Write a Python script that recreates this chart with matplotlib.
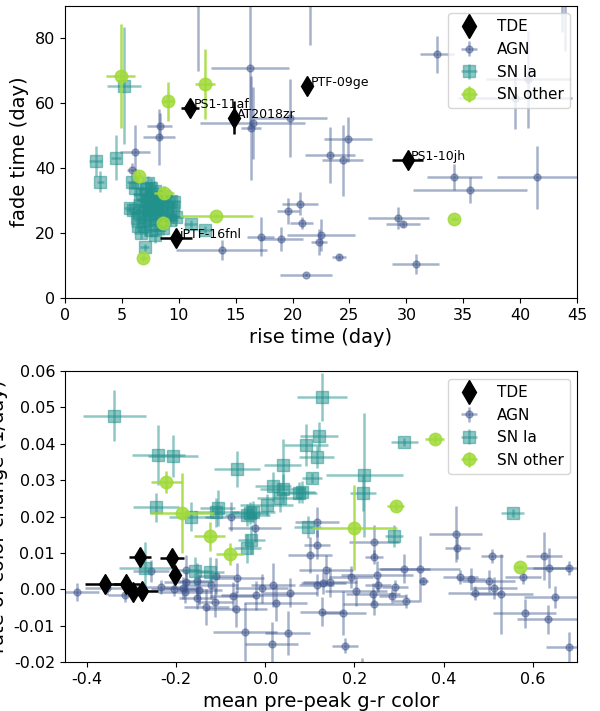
import matplotlib
matplotlib.use("Agg")
import matplotlib.pyplot as plt
import numpy as np

# ---------------- top panel: rise vs fade ----------------
tde_names = ['PS1-11af', 'AT2018zr', 'PTF-09ge', 'PS1-10jh', 'iPTF-16fnl']
tde_rise = [11.0, 14.85, 21.3, 30.1, 9.8]
tde_fade = [58.6, 55.5, 65.4, 42.6, 18.5]
tde_rise_err = [0.8, 0.3, 0.3, 1.4, 1.4]
tde_fade_err = [1.5, 5.0, 1.0, 1.0, 1.0]

agn_rise = [16.26, 16.5, 16.35, 19.8, 11.7, 21.5, 24.9, 23.3, 24.4, 32.7, 40.7, 39.5,
            43.7, 43.9, 34.2, 35.6, 41.5, 29.3, 29.7, 22.5, 22.3, 24.1, 30.8, 21.2,
            20.65, 19.6, 20.8, 17.2, 19.0, 13.8, 8.35, 8.25, 6.15, 5.9, 9.5]
agn_fade = [70.9, 53.9, 52.4, 55.4, 100, 100, 48.8, 44.1, 42.4, 75.0, 67.3, 61.7,
            97, 100, 37.1, 33.3, 37.1, 24.6, 22.8, 19.4, 17.3, 12.6, 10.4, 7.2,
            29.0, 26.8, 23.1, 18.8, 18.2, 14.8, 52.9, 49.6, 44.9, 39.5, 25.0]
agn_rise_err = [3.4, 4.6, 0.9, 3.2, 0.3, 0.3, 2.1, 2.2, 1.8, 1.5, 3.7, 5.0,
                0.3, 0.3, 2.4, 5.0, 3.5, 2.7, 1.5, 3.0, 0.7, 0.6, 2.1, 2.3,
                1.6, 1.0, 1.0, 1.2, 1.9, 4.0, 1.1, 1.4, 1.3, 0.4, 0.8]
agn_fade_err = [19, 11, 16, 12, 30, 22, 7, 8.6, 11, 5.6, 15, 9.6,
                15, 24, 4, 4, 9.6, 3.4, 1.0, 5, 4, 0.8, 3, 0.5,
                3.6, 4, 1.8, 6, 3.6, 3, 4, 8.7, 8.5, 2, 2]

snia_rise = [2.7, 4.5, 3.1, 5.2, 5.9, 5.7, 7.0, 11.05, 12.3,
             6.0, 6.3, 6.5, 6.6, 6.8, 6.9, 7.0, 7.0, 7.1, 7.2, 7.3, 7.4, 7.5, 7.5,
             7.6, 7.7, 7.8, 7.9, 8.0, 8.1, 8.2, 8.3, 8.4, 8.5, 8.7, 8.8, 9.0, 9.2,
             9.3, 9.5, 9.6, 9.8, 6.2, 7.3, 6.7, 7.9, 6.4, 7.6, 8.6]
snia_fade = [42.3, 43.2, 35.8, 65.4, 35.8, 27.7, 15.6, 22.8, 21.0,
             27.0, 24.5, 26.0, 30.2, 32.0, 28.5, 25.0, 22.0, 33.5, 30.0, 27.2, 24.0, 31.0, 28.0,
             20.8, 26.0, 29.5, 33.0, 24.5, 27.5, 30.5, 22.5, 26.5, 29.0, 31.5, 25.5, 28.0, 24.0,
             30.0, 27.0, 29.5, 25.0, 33.8, 35.5, 20.0, 19.5, 22.2, 34.0, 21.5]
snia_rise_err = [0.6, 0.45, 0.3, 1.5, 0.4, 0.5, 0.4, 0.6, 0.6,
                 0.6, 0.5, 0.7, 0.6, 0.8, 0.5, 0.6, 0.5, 0.7, 0.6, 0.8, 0.5, 0.6, 0.9,
                 0.5, 0.7, 0.6, 0.8, 0.5, 0.6, 0.7, 0.5, 0.8, 0.6, 0.7, 0.5, 0.6, 0.7,
                 0.8, 0.6, 0.5, 0.7, 0.6, 0.5, 0.6, 0.5, 0.6, 0.7, 0.5]
snia_fade_err = [4.6, 7, 3.3, 18, 2, 1.5, 1.0, 1.2, 1.0,
                 2.5, 3, 2, 3.5, 2.5, 3, 2, 3, 2.5, 3.5, 2, 3, 2.5, 4,
                 2, 3, 2.5, 3, 2, 3.5, 2.5, 2, 3, 2.5, 3, 2, 3.5, 2,
                 3, 2.5, 2, 3, 2.5, 2, 2, 2.5, 2, 3, 2]

sno_rise = [4.9, 9.1, 12.3, 6.5, 8.7, 8.6, 13.3, 6.9, 34.2]
sno_fade = [68.3, 60.6, 66.0, 37.7, 32.4, 23.2, 25.2, 12.3, 24.4]
sno_rise_err = [1.3, 0.5, 0.9, 0.3, 0.9, 0.3, 3.2, 0.3, 0.3]
sno_fade_err = [16, 6, 10.8, 1, 2, 1, 0.5, 0.8, 0.5]

# ---------------- bottom panel: color vs color change ----------------
tde_col = [-0.359, -0.312, -0.296, -0.276, -0.281, -0.21, -0.202]
tde_rate = [0.0015, 0.0015, -0.0008, -0.0005, 0.0089, 0.0086, 0.0039]
tde_col_err = [0.046, 0.03, 0.02, 0.035, 0.025, 0.027, 0.005]
tde_rate_err = [0.0008, 0.0008, 0.0005, 0.0005, 0.0008, 0.0008, 0.0008]

agn_col = [-0.422, -0.355, -0.314, -0.256, -0.234, -0.206, -0.184, -0.18, -0.177, -0.177,
           -0.154, -0.148, -0.154, -0.132, -0.121, -0.112, -0.11, -0.073, -0.066, -0.064,
           -0.046, -0.02, -0.024, -0.008, 0.014, 0.017, 0.023, 0.05, 0.055, -0.076,
           0.116, 0.116, 0.1, 0.136, 0.127, 0.115, 0.13, 0.145, 0.175, 0.179,
           0.244, 0.244, 0.192, 0.251, 0.253, 0.204, 0.242, 0.244, 0.291, 0.285,
           0.316, 0.312, 0.348, 0.355, 0.427, 0.431, 0.508, 0.438, 0.462, 0.501,
           0.514, 0.471, 0.53, 0.579, 0.625, 0.636, 0.681, 0.582, 0.65, 0.634,
           0.681, 0.218]
agn_rate = [-0.0008, 0.0003, -0.0016, 0.005, 0.0006, 0.0001, 0.0003, -0.0008, 0.0053, 0.002,
            0.0023, -0.0002, -0.0024, -0.0049, 0.0012, -0.0035, 0.0037, -0.0019, -0.0054, 0.0031,
            -0.0118, -0.0016, 0.0169, 0.0003, -0.015, 0.0012, -0.0038, -0.012, -0.001, 0.0199,
            0.0185, 0.0122, 0.0094, 0.0053, -0.0062, 0.0012, 0.0017, 0.002, -0.0066, -0.0155,
            0.013, 0.0089, 0.0034, 0.0039, 0.0012, -0.0005, -0.0013, -0.004, 0.0006, -0.0018,
            -0.0032, 0.0056, 0.0056, 0.0023, 0.0152, 0.0114, 0.0092, 0.0034, 0.0028, 0.0023,
            0.0003, -0.001, -0.0013, 0.0034, 0.0092, 0.0059, 0.0059, -0.0066, -0.0021, -0.0082,
            -0.0159, -0.025]
agn_col_err = [0.049, 0.05, 0.04, 0.04, 0.06, 0.05, 0.04, 0.06, 0.03, 0.05,
               0.04, 0.05, 0.04, 0.05, 0.06, 0.04, 0.04, 0.05, 0.07, 0.06,
               0.072, 0.08, 0.06, 0.06, 0.06, 0.05, 0.07, 0.05, 0.06, 0.06,
               0.05, 0.03, 0.05, 0.06, 0.05, 0.04, 0.05, 0.06, 0.05, 0.03,
               0.056, 0.02, 0.05, 0.08, 0.03, 0.07, 0.06, 0.07, 0.03, 0.03,
               0.03, 0.058, 0.09, 0.01, 0.06, 0.028, 0.025, 0.04, 0.03, 0.06,
               0.05, 0.06, 0.07, 0.04, 0.04, 0.05, 0.08, 0.07, 0.07, 0.07,
               0.05, 0.003]
agn_rate_err = [0.0025, 0.002, 0.002, 0.003, 0.002, 0.002, 0.003, 0.003, 0.004, 0.003,
                0.005, 0.004, 0.003, 0.005, 0.004, 0.004, 0.005, 0.004, 0.005, 0.004,
                0.008, 0.004, 0.004, 0.004, 0.006, 0.006, 0.005, 0.006, 0.004, 0.004,
                0.004, 0.004, 0.005, 0.004, 0.004, 0.003, 0.003, 0.004, 0.006, 0.002,
                0.0048, 0.002, 0.003, 0.004, 0.002, 0.004, 0.003, 0.003, 0.002, 0.002,
                0.002, 0.004, 0.009, 0.001, 0.0076, 0.003, 0.002, 0.002, 0.003, 0.003,
                0.003, 0.002, 0.011, 0.002, 0.0066, 0.0055, 0.002, 0.004, 0.003, 0.004,
                0.004, 0.006]

snia_col = [-0.339, -0.24, -0.208, -0.064, 0.039, 0.127, 0.12, 0.091, 0.115, 0.105,
            0.017, 0.039, 0.075, 0.032, 0.003, -0.107, -0.11, -0.245, -0.166, -0.04,
            -0.028, -0.035, -0.031, -0.04, -0.269, -0.157, -0.123, 0.222, 0.219, 0.312,
            0.555, 0.288, 0.095, 0.082]
snia_rate = [0.0477, 0.0369, 0.0367, 0.0331, 0.0342, 0.0528, 0.0421, 0.0397, 0.0364, 0.0306,
             0.0283, 0.0276, 0.0266, 0.0252, 0.0232, 0.0224, 0.0212, 0.0226, 0.0199, 0.0204,
             0.0212, 0.021, 0.0136, 0.0113, 0.0059, 0.005, 0.0048, 0.0314, 0.0265, 0.0405,
             0.021, 0.0147, 0.0171, 0.0268]
snia_col_err = [0.071, 0.06, 0.056, 0.052, 0.041, 0.056, 0.043, 0.05, 0.039, 0.023,
                0.04, 0.05, 0.04, 0.05, 0.06, 0.04, 0.05, 0.052, 0.05, 0.05,
                0.05, 0.04, 0.03, 0.03, 0.06, 0.03, 0.03, 0.086, 0.03, 0.031,
                0.025, 0.02, 0.03, 0.03]
snia_rate_err = [0.007, 0.0083, 0.0057, 0.005, 0.007, 0.0066, 0.004, 0.0057, 0.003, 0.0015,
                 0.004, 0.004, 0.003, 0.004, 0.003, 0.005, 0.004, 0.004, 0.004, 0.003,
                 0.003, 0.003, 0.004, 0.004, 0.007, 0.004, 0.004, 0.017, 0.005, 0.001,
                 0.001, 0.003, 0.003, 0.003]

sno_col = [-0.222, -0.187, -0.125, -0.08, 0.38, 0.293, 0.2, 0.571]
sno_rate = [0.0295, 0.021, 0.0146, 0.0097, 0.0413, 0.0229, 0.0169, 0.0061]
sno_col_err = [0.034, 0.072, 0.034, 0.03, 0.022, 0.019, 0.095, 0.01]
sno_rate_err = [0.003, 0.011, 0.004, 0.003, 0.001, 0.001, 0.0117, 0.0005]

# ---------------- styling ----------------
C_AGN = '#3b528b'
C_IA = '#21918c'
C_OTH = '#a0da39'

fig = plt.figure(figsize=(6, 7.11), dpi=100)
ax1 = fig.add_axes([0.108, 0.581, 0.854, 0.411])
ax2 = fig.add_axes([0.108, 0.069, 0.854, 0.409])


def draw(ax, tx, ty, tex, tey, ax_, ay, aex, aey, ix, iy, iex, iey, ox, oy, oex, oey):
    h_agn = ax.errorbar(ax_, ay, xerr=aex, yerr=aey, fmt='o', ms=5, color=C_AGN,
                        alpha=0.45, lw=1.8, zorder=2, label='AGN')
    h_ia = ax.errorbar(ix, iy, xerr=iex, yerr=iey, fmt='s', ms=9, color=C_IA,
                       alpha=0.5, lw=1.8, zorder=3, label='SN Ia')
    h_oth = ax.errorbar(ox, oy, xerr=oex, yerr=oey, fmt='o', ms=9, color=C_OTH,
                        alpha=0.85, lw=1.8, zorder=4, label='SN other')
    ax.errorbar(tx, ty, xerr=tex, yerr=tey, fmt='d', ms=10, color='black',
                lw=1.8, zorder=5)
    h_tde, = ax.plot([], [], 'd', ms=12, color='black', linestyle='none')
    ax.legend([h_tde, h_agn, h_ia, h_oth], ['TDE', 'AGN', 'SN Ia', 'SN other'],
              loc='upper right', fontsize=11)


draw(ax1, tde_rise, tde_fade, tde_rise_err, tde_fade_err,
     agn_rise, agn_fade, agn_rise_err, agn_fade_err,
     snia_rise, snia_fade, snia_rise_err, snia_fade_err,
     sno_rise, sno_fade, sno_rise_err, sno_fade_err)
for name, x, y in zip(tde_names, tde_rise, tde_fade):
    ax1.text(x + 0.3, y, name, fontsize=9, zorder=6)
ax1.set_xlim(0, 45)
ax1.set_ylim(0, 90)
ax1.set_xticks(np.arange(0, 46, 5))
ax1.set_yticks([0, 20, 40, 60, 80])
ax1.set_xlabel('rise time (day)', fontsize=14)
ax1.set_ylabel('fade time (day)', fontsize=14)

draw(ax2, tde_col, tde_rate, tde_col_err, tde_rate_err,
     agn_col, agn_rate, agn_col_err, agn_rate_err,
     snia_col, snia_rate, snia_col_err, snia_rate_err,
     sno_col, sno_rate, sno_col_err, sno_rate_err)
ax2.set_xlim(-0.45, 0.7)
ax2.set_ylim(-0.02, 0.06)
ax2.set_xticks([-0.4, -0.2, 0.0, 0.2, 0.4, 0.6])
ax2.set_yticks([-0.02, -0.01, 0.0, 0.01, 0.02, 0.03, 0.04, 0.05, 0.06])
ax2.set_yticklabels(['-0.02', '-0.01', '0.00', '0.01', '0.02', '0.03', '0.04', '0.05', '0.06'])
ax2.set_xticklabels(['-0.4', '-0.2', '0.0', '0.2', '0.4', '0.6'])
ax2.set_xlabel('mean pre-peak g-r color', fontsize=14)
ax2.set_ylabel('rate of color change (1/day)', fontsize=14)

for a in (ax1, ax2):
    a.tick_params(labelsize=11.5)

fig.savefig('out.png', dpi=100)
